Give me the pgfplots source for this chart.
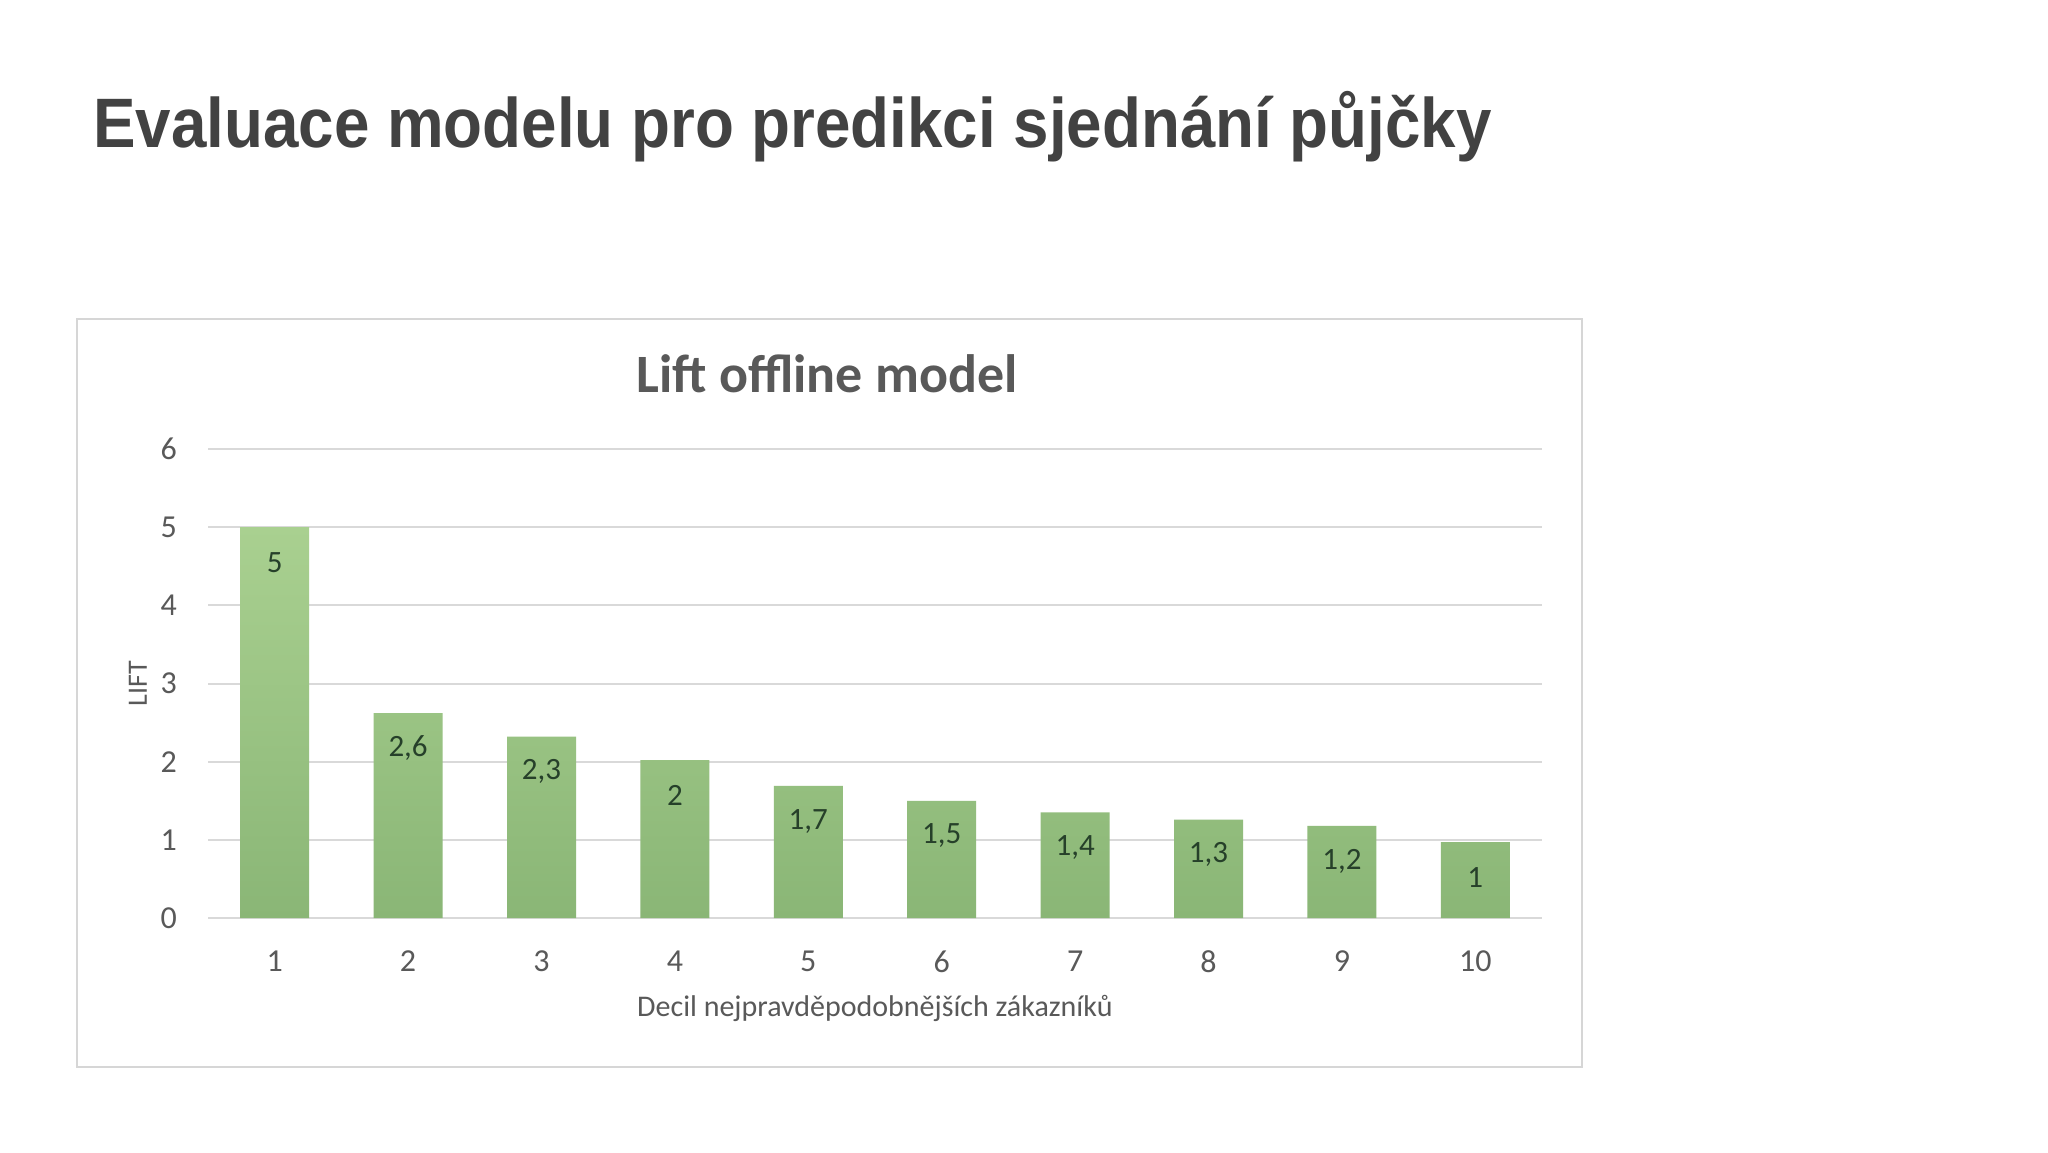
\documentclass[border=0pt]{standalone}
\usepackage{pgfplots}
\pgfplotsset{compat=1.18}
\usepackage{fontspec}
\setmainfont{Carlito}
\newfontfamily\headfont{Liberation Sans}

\definecolor{headgray}{HTML}{424242}
\definecolor{txtgray}{HTML}{595959}
\definecolor{gridgray}{HTML}{D9D9D9}
\definecolor{framegray}{HTML}{D6D6D6}
\definecolor{barTop}{HTML}{A9D090}
\definecolor{barBot}{HTML}{8AB676}
\definecolor{lblgreen}{HTML}{26402A}

\begin{document}
\begin{tikzpicture}
% page 2048x1152 px, 1 px = 0.5pt
\path[use as bounding box] (0,0) rectangle (1024pt,576pt);
\fill[white] (0,0) rectangle (1024pt,576pt);

% slide title
\node[anchor=base west, inner sep=0pt, text=headgray, font=\headfont\bfseries\fontsize{35}{40}\selectfont]
  at (46.5pt,502pt) {\scalebox{0.91}[1]{Evaluace modelu pro predikci sjednání půjčky}};

% chart frame
\draw[framegray, line width=1pt] (38.5pt,42.5pt) rectangle (791pt,416.5pt);

% chart title
\node[anchor=base, inner sep=0pt, text=txtgray, font=\bfseries\fontsize{27}{31}\selectfont]
  at (413.5pt,379.5pt) {Lift offline model};

\begin{axis}[
    at={(104pt,117pt)}, anchor=south west,
    scale only axis,
    width=667pt, height=234.5pt,
    xmin=0.5, xmax=10.5,
    ymin=0, ymax=6,
    xtick={1,...,10},
    ytick={0,...,6},
    ymajorgrids=true,
    grid style={gridgray, line width=1pt},
    axis line style={draw=none},
    major tick length=0pt,
    /pgf/number format/assume math mode=true,
    ticklabel style={text=txtgray, font=\fontsize{16}{19}\selectfont},
    yticklabel style={xshift=-12pt},
    xticklabel style={yshift=-13pt},
    xlabel={Decil nejpravděpodobnějších zákazníků},
    xlabel style={text=txtgray, font=\fontsize{15}{18}\selectfont, yshift=-4pt},
    ylabel={LIFT},
    ylabel style={text=txtgray, font=\fontsize{14}{17}\selectfont, yshift=0pt},
    clip=false,
]
\addplot[ybar, bar width=34.5pt, draw=none,
    top color=barTop, bottom color=barBot,
    point meta=explicit symbolic,
    nodes near coords,
    every node near coord/.append style={anchor=center, yshift=-17.6pt,
        text=lblgreen, font=\fontsize{15.5}{18}\selectfont}]
  table[x=x, y=y, meta=lab] {
x  y     lab
1  5.00  5
2  2.62  2,6
3  2.32  2,3
4  2.02  2
5  1.69  1,7
6  1.50  1,5
7  1.35  1,4
8  1.26  1,3
9  1.18  1,2
10 0.97  1
};
\end{axis}
\end{tikzpicture}
\end{document}
